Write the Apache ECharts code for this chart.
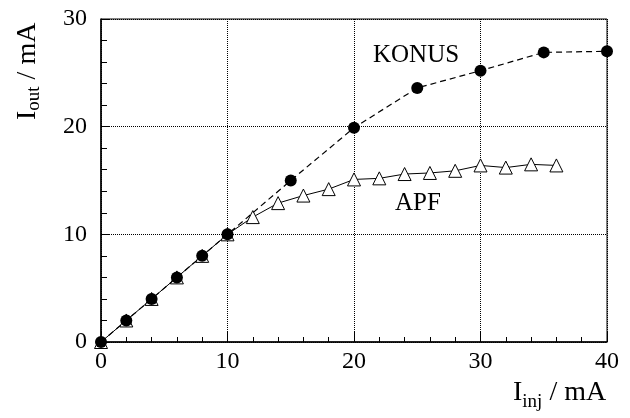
<!DOCTYPE html>
<html>
<head>
<meta charset="utf-8">
<script src="https://cdn.jsdelivr.net/npm/echarts@6/dist/echarts.min.js"></script>
<style>
  html, body { margin: 0; padding: 0; background: #fff; }
  #chart { width: 630px; height: 418px; }
</style>
</head>
<body>
<div id="chart"></div>
<script>
// values
const konusX = [0, 2, 4, 6, 8, 10, 15, 20, 25, 30, 35, 40]
const konusY = [0, 2, 4, 6, 8, 10, 15, 19.9, 23.6, 25.2, 26.9, 27]
const apfX = [0, 2, 4, 6, 8, 10, 12, 14, 16, 18, 20, 22, 24, 26, 28, 30, 32, 34, 36]
const apfY = [0, 2, 4, 6, 8, 10, 11.6, 12.9, 13.6, 14.2, 15.1, 15.2, 15.6, 15.7, 15.9, 16.4, 16.2, 16.5, 16.4]
const seriesNames = ['KONUS', 'APF']

const FONT = '"Liberation Serif", "DejaVu Serif", serif'
const ctx = document.createElement('canvas').getContext('2d')
const textWidth = (t, size) => {
    ctx.font = size + 'px ' + FONT
    return ctx.measureText(t).width
}

// axis title like "I_sub / mA", baseline at y = 0 in the group
const axisTitle = (x, y, rotation, sub, subDrop) => {
    const big = 28, small = 19
    const w1 = textWidth('I', big)
    const w2 = textWidth(sub, small)
    const txt = (t, tx, ty, size) => ({
        type: 'text', x: tx, y: ty,
        style: { text: t, font: size + 'px ' + FONT, fill: '#000', verticalAlign: 'middle' }
    })
    return {
        type: 'group', x: x, y: y, rotation: rotation,
        children: [
            txt('I', 0, -0.33 * big, big),
            txt(sub, w1, subDrop - 0.33 * small, small),
            txt(' / mA', w1 + w2, -0.33 * big, big)
        ]
    }
}

const pairs = (xs, ys) => xs.map((x, i) => [x, ys[i]])

const mChart = echarts.init(document.getElementById('chart'))

const axisCommon = {
    type: 'value',
    axisLine: { show: true, lineStyle: { color: '#000', width: 1.5 } },
    axisTick: { show: true, inside: true, length: 10, lineStyle: { color: '#000', width: 1 } },
    minorTick: { show: true, splitNumber: 5, length: 5, lineStyle: { color: '#000', width: 1 } },
    splitLine: { show: true, lineStyle: { color: '#000', type: 'dotted', width: 1 } },
    axisLabel: { color: '#000', fontFamily: FONT, fontSize: 24 }
}

const options = {
    animation: false,
    backgroundColor: '#fff',
    grid: {
        left: 101, right: 23, top: 19, bottom: 76,
        show: true, borderColor: '#000', borderWidth: 1
    },
    xAxis: Object.assign({}, axisCommon, {
        min: 0, max: 40, interval: 10,
        axisLabel: Object.assign({}, axisCommon.axisLabel, { margin: 8 })
    }),
    yAxis: Object.assign({}, axisCommon, {
        min: 0, max: 30, interval: 10,
        axisTick: Object.assign({}, axisCommon.axisTick, { length: 9 }),
        minorTick: Object.assign({}, axisCommon.minorTick, { length: 6 }),
        axisLabel: Object.assign({}, axisCommon.axisLabel, { margin: 14 })
    }),
    series: [
        {
            name: seriesNames[1],
            type: 'line',
            data: pairs(apfX, apfY),
            symbol: 'triangle',
            symbolSize: 13,
            lineStyle: { color: '#000', width: 1 },
            itemStyle: { color: '#fff', borderColor: '#000', borderWidth: 1 },
            z: 2
        },
        {
            name: seriesNames[0],
            type: 'line',
            data: pairs(konusX, konusY),
            symbol: 'circle',
            symbolSize: 12,
            lineStyle: { color: '#000', width: 1.2, type: [6, 4] },
            itemStyle: { color: '#000', borderWidth: 0 },
            z: 3
        }
    ],
    graphic: [
        {
            type: 'text', x: 373, y: 55,
            style: { text: seriesNames[0], font: '25px ' + FONT, fill: '#000', verticalAlign: 'middle' }
        },
        {
            type: 'text', x: 395, y: 203,
            style: { text: seriesNames[1], font: '25px ' + FONT, fill: '#000', verticalAlign: 'middle' }
        },
        axisTitle(513, 402, 0, 'inj', 6),
        axisTitle(37, 120, Math.PI / 2, 'out', 3)
    ]
}

mChart.setOption(options)
</script>
</body>
</html>
